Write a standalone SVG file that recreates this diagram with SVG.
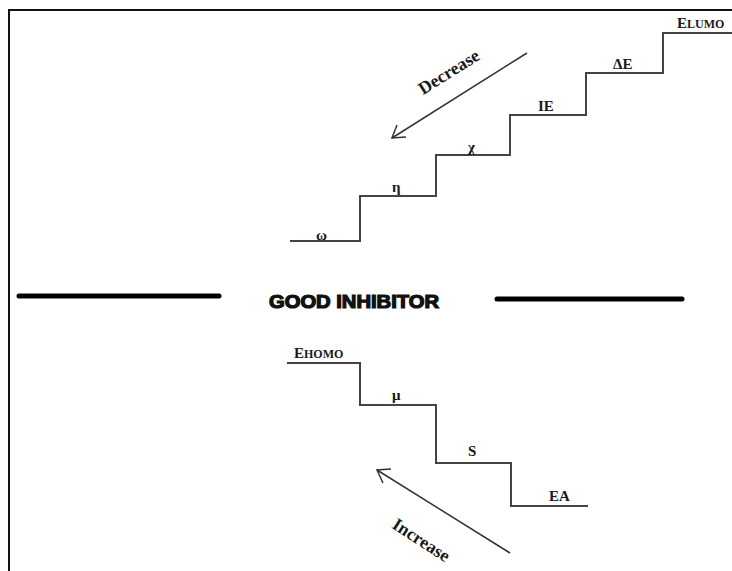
<svg xmlns="http://www.w3.org/2000/svg" width="732" height="571" viewBox="0 0 732 571">
<style>
.lbl{font-family:"Liberation Serif",serif;font-weight:bold;font-size:15px;fill:#1a1a1a}
.sm{font-size:12px}
.big{font-size:18px}
.stair{fill:none;stroke:#444;stroke-width:2}
.arr{fill:none;stroke:#333;stroke-width:1.5}
.bar{stroke:#000;stroke-width:5;stroke-linecap:round}
.title{font-family:"Liberation Sans",sans-serif;font-weight:bold;font-size:18px;fill:#111;stroke:#111;stroke-width:1.2}
</style>
<rect width="732" height="571" fill="#fff"/>
<g id="frame">
<path d="M9,571 V10 H732" fill="none" stroke="#111" stroke-width="2"/>
</g>
<g id="upper-stairs">
<path class="stair" d="M290,241 H360 V196 H436 V155 H510 V115 H586 V73 H663 V33 H732"/>
</g>
<g id="lower-stairs">
<path class="stair" d="M287,363 H360 V405 H436 V463 H511 V506 H588"/>
</g>
<g id="labels-upper">
<text class="lbl" x="316" y="240">ω</text>
<text class="lbl" x="392" y="192">η</text>
<text class="lbl" x="468" y="152">χ</text>
<text class="lbl" x="538" y="111">IE</text>
<text class="lbl" x="613" y="69">ΔE</text>
<text class="lbl" x="677" y="28">E<tspan class="sm">LUMO</tspan></text>
</g>
<g id="labels-lower">
<text class="lbl" x="294" y="358">E<tspan class="sm">HOMO</tspan></text>
<text class="lbl" x="392" y="400">μ</text>
<text class="lbl" x="468" y="456">S</text>
<text class="lbl" x="549" y="501">EA</text>
</g>
<g id="connectors">
<line class="arr" x1="527" y1="53" x2="392" y2="138"/>
<path class="arr" d="M397,125 L392,138 L406,137"/>
<line class="arr" x1="510" y1="553" x2="377" y2="470"/>
<path class="arr" d="M391,469 L377,470 L383,483"/>
</g>
<g id="decrease">
<text class="lbl big" text-anchor="middle" transform="translate(452,77) rotate(-32)">Decrease</text>
</g>
<g id="increase">
<text class="lbl big" text-anchor="middle" transform="translate(418,545) rotate(33)">Increase</text>
</g>
<g id="good-inhibitor">
<line class="bar" x1="19" y1="296" x2="219" y2="296"/>
<line class="bar" x1="497" y1="299" x2="682" y2="299"/>
<text class="title" x="269" y="308" textLength="170" lengthAdjust="spacingAndGlyphs">GOOD INHIBITOR</text>
</g>
</svg>
